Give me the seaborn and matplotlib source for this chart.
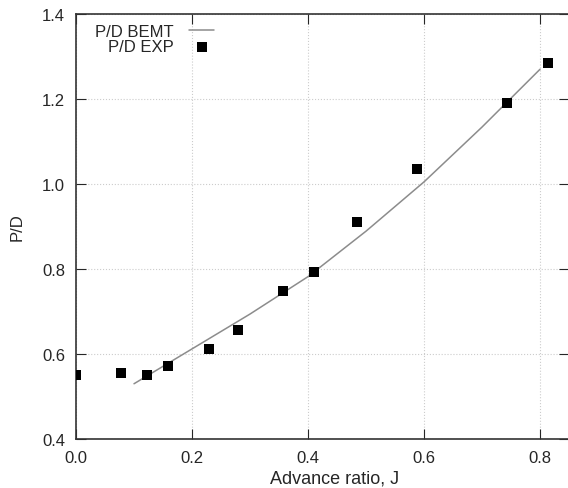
import matplotlib
matplotlib.use("Agg")
import matplotlib.pyplot as plt
import seaborn as sns

# BEMT prediction (line)
j_bemt = [0.1, 0.2, 0.3, 0.4, 0.5, 0.6, 0.7, 0.8]
pd_bemt = [0.53, 0.612, 0.694, 0.782, 0.889, 1.005, 1.134, 1.27]

# experimental points
j_exp = [0.0, 0.078, 0.122, 0.159, 0.229, 0.279, 0.357, 0.41, 0.484, 0.588, 0.743, 0.814]
pd_exp = [0.551, 0.555, 0.55, 0.572, 0.612, 0.656, 0.748, 0.793, 0.911, 1.035, 1.19, 1.285]

sns.set_style("ticks")
plt.rcParams['font.family'] = ['Liberation Sans', 'DejaVu Sans']

fig = plt.figure(figsize=(5.68, 4.89), dpi=100)
ax = fig.add_axes([0.1338, 0.1002, 0.868, 0.8691])

sns.lineplot(x=j_bemt, y=pd_bemt, ax=ax, color="#8c8c8c", linewidth=1.1, label="P/D BEMT")
sns.scatterplot(x=j_exp, y=pd_exp, ax=ax, color="black", marker="s", s=55,
                edgecolor="black", linewidth=0, label="P/D EXP", zorder=3)

ax.set_xlim(0, 0.85)
ax.set_ylim(0.4, 1.4)
ax.set_xticks([0.0, 0.2, 0.4, 0.6, 0.8])
ax.set_yticks([0.4, 0.6, 0.8, 1.0, 1.2, 1.4])
ax.set_xticklabels(["0.0", "0.2", "0.4", "0.6", "0.8"])
ax.set_yticklabels(["0.4", "0.6", "0.8", "1.0", "1.2", "1.4"])
ax.grid(True, linestyle=":", color="#cccccc", linewidth=0.8)
ax.tick_params(direction="in", top=True, right=True, length=7, labelsize=12, pad=8)
for s in ax.spines.values():
    s.set_linewidth(1.2)
    s.set_color("#333333")

ax.set_xlabel("Advance ratio, J", fontsize=13)
ax.set_ylabel("P/D", fontsize=12, labelpad=12)
# gnuplot centres the label on a slightly wider plot area
ax.xaxis.set_label_coords(0.525, -0.071)

leg = ax.legend(loc="upper left", bbox_to_anchor=(0.018, 1.0), frameon=False,
                markerfirst=False, fontsize=12, handlelength=1.5,
                handletextpad=0.95, labelspacing=0.0, borderaxespad=0.2)
for t in leg.get_texts():
    t.set_ha("right")
leg._legend_box.align = "right"

fig.savefig("out.png", dpi=100)
